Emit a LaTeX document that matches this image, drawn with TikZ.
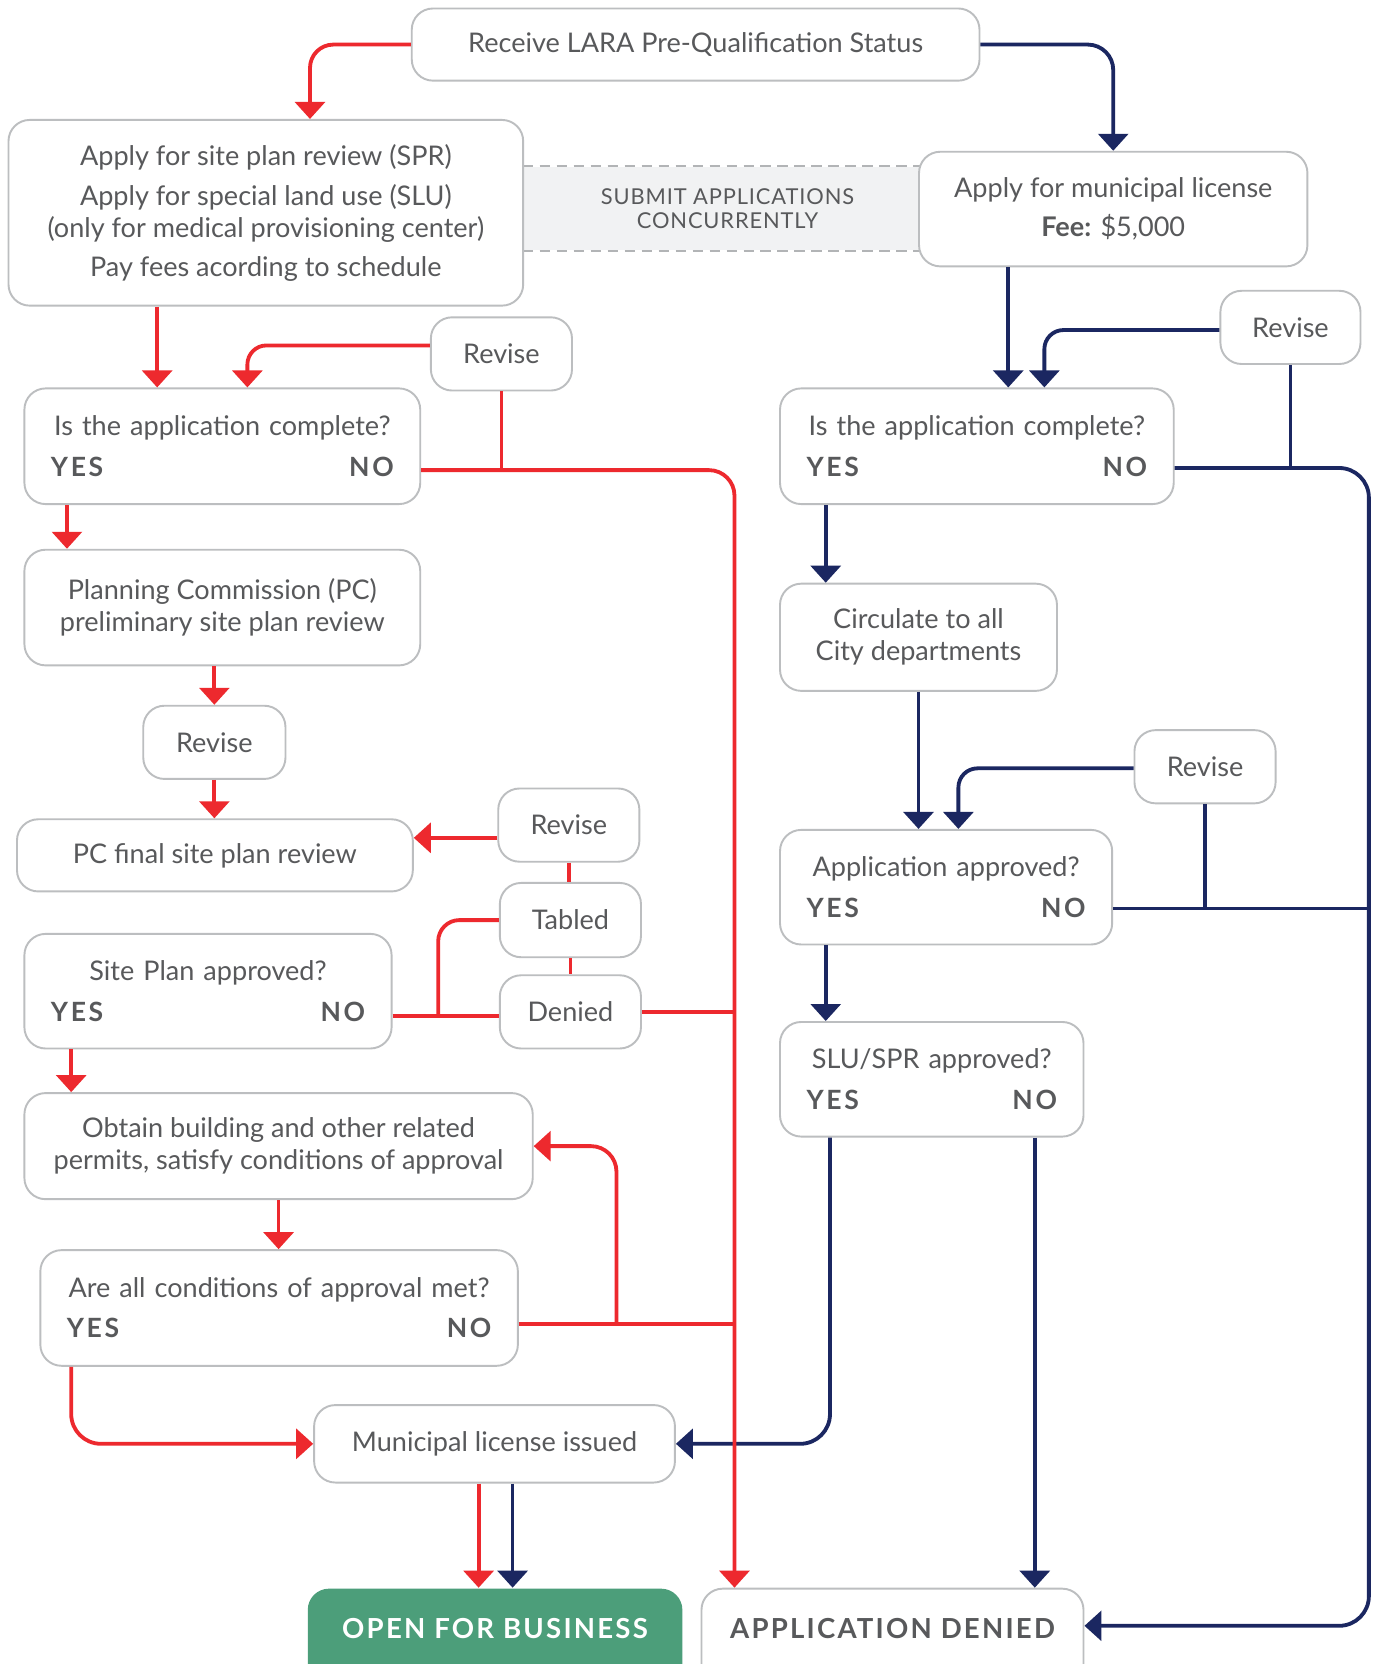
\documentclass[tikz,border=0pt]{standalone}
\usepackage{fontspec}
\setmainfont{Lato}
\newfontfamily\ynfont[LetterSpace=10]{Lato}
\newfontfamily\capsfont[LetterSpace=4]{Lato}
\newfontfamily\endfont[LetterSpace=8]{Lato}
\usetikzlibrary{calc,arrows.meta}
\definecolor{myred}{RGB}{237,41,46}
\definecolor{navy}{RGB}{27,39,97}
\definecolor{bordergray}{RGB}{188,190,192}
\definecolor{txtgray}{RGB}{88,89,91}
\definecolor{okgreen}{RGB}{76,158,122}
\definecolor{bandfill}{RGB}{241,242,243}
\definecolor{bandline}{RGB}{178,180,182}
\newcommand\yesno{{\ynfont\bfseries\fontsize{12.5}{19}\selectfont YES\hfill NO}}
\newcommand\qline[1]{\makebox[0pt][c]{#1}}
\begin{document}
\begin{tikzpicture}[x=0.5pt,y=-0.5pt,
  box/.style={draw=bordergray, line width=0.9pt, rounded corners=10pt, fill=white, inner sep=0pt,
    align=center, text=txtgray, font=\fontsize{12.75}{15}\selectfont},
  qbox/.style={box, font=\fontsize{12.75}{19}\selectfont},
  rl/.style={draw=myred, line width=1.8pt},
  bl/.style={draw=navy, line width=1.8pt},
  arr/.style={-{Triangle[width=14pt,length=8pt]}},
  endlbl/.style={inner sep=0pt, font=\endfont\bfseries\fontsize{13}{15}\selectfont}
]
\useasboundingbox (0,0) rectangle (1294,1568);
\fill[white] (0,0) rectangle (1294,1568);
\clip (0,0) rectangle (1294,1568);

% concurrent band
\node[fill=bandfill, minimum width=192.5pt, minimum height=39.5pt, inner sep=0pt, align=center,
  text=txtgray, font=\capsfont\fontsize{10.3}{11.5}\selectfont] (band) at (685.5,196.5)
  {SUBMIT APPLICATIONS\\CONCURRENTLY};
\draw[bandline, line width=0.9pt, dash pattern=on 5pt off 3pt] (band.north west) -- (band.north east);
\draw[bandline, line width=0.9pt, dash pattern=on 5pt off 3pt] (band.south west) -- (band.south east);

% boxes
\node[box, minimum width=267.5pt, minimum height=34pt] (recv) at (655.5,42) {Receive LARA Pre-Qualification Status};
\node[box, minimum width=242.5pt, minimum height=87.5pt] (spr) at (250.5,200.5)
  {Apply for site plan review (SPR)\\[4pt]Apply for special land use (SLU)\\(only for medical provisioning center)\\[3.5pt]Pay fees acording to schedule};
\node[box, minimum width=183pt, minimum height=54pt] (lic) at (1049,197)
  {Apply for municipal license\\[3.5pt]{\bfseries Fee:} \$5,000};
\node[box, minimum width=66.5pt, minimum height=34.5pt] (rev1) at (472.5,333.5) {Revise};
\node[qbox, minimum width=186.5pt, minimum height=54.5pt, text width=161.5pt] (compL) at (209.5,420.5)
  {\qline{Is the application complete?}\\\yesno};
\node[box, minimum width=186.5pt, minimum height=54.5pt] (plan) at (209.5,572.5)
  {Planning Commission (PC)\\preliminary site plan review};
\node[box, minimum width=67pt, minimum height=34.5pt] (rev2) at (202,699.5) {Revise};
\node[box, minimum width=186.5pt, minimum height=34pt] (pcf) at (202.5,806) {PC final site plan review};
\node[box, minimum width=66.5pt, minimum height=34.5pt] (rev3) at (536,777.5) {Revise};
\node[box, minimum width=66.5pt, minimum height=35pt] (tabled) at (537.5,867) {Tabled};
\node[box, minimum width=66.5pt, minimum height=34.5pt] (denied) at (537.5,953.5) {Denied};
\node[qbox, minimum width=173pt, minimum height=54pt, text width=148pt] (site) at (196,934)
  {\qline{Site Plan approved?}\\\yesno};
\node[box, minimum width=239.5pt, minimum height=50pt] (obtain) at (262.5,1080)
  {Obtain building and other related\\permits, satisfy conditions of approval};
\node[qbox, minimum width=225pt, minimum height=54.5pt, text width=200pt] (cond) at (263,1232.5)
  {\qline{Are all conditions of approval met?}\\\yesno};
\node[box, minimum width=170pt, minimum height=36.5pt] (muni) at (466,1360.5) {Municipal license issued};
\node[box, draw=none, fill=okgreen, minimum width=176.5pt, minimum height=51.5pt] (open) at (466.5,1548.5) {};
\node[box, minimum width=180pt, minimum height=51.5pt] (deny) at (841,1548.5) {};
\node[endlbl, text=white] (openlbl) at (466.5,1535) {OPEN FOR BUSINESS};
\node[endlbl, text=txtgray] (denylbl) at (841,1535) {APPLICATION DENIED};

\node[box, minimum width=66pt, minimum height=34.5pt] (rev4) at (1216,308.5) {Revise};
\node[qbox, minimum width=185.5pt, minimum height=54.5pt, text width=160.5pt] (compR) at (920.5,420.5)
  {\qline{Is the application complete?}\\\yesno};
\node[box, minimum width=130.5pt, minimum height=50.5pt] (circ) at (865.5,600.5)
  {Circulate to all\\City departments};
\node[box, minimum width=66.5pt, minimum height=34.5pt] (rev5) at (1135.5,722.5) {Revise};
\node[qbox, minimum width=156.5pt, minimum height=54pt, text width=131.5pt] (appr) at (891.5,836)
  {\qline{Application approved?}\\\yesno};
\node[qbox, minimum width=143pt, minimum height=54pt, text width=118pt] (slu) at (878,1017)
  {\qline{SLU/SPR approved?}\\\yesno};

% helper coordinates
\coordinate (cLno) at ($(compL.east)+(0,22.5)$);
\coordinate (redx) at ($(deny.north west)+(32,0)$);
\coordinate (sNo) at ($(site.east)+(0,23)$);
\coordinate (cNo) at ($(cond.east)+(0,15)$);
\coordinate (cRno) at ($(compR.east)+(0,20.5)$);
\coordinate (bluex) at ($(rev4.east)+(7,0)$);
\coordinate (aNo) at ($(appr.east)+(0,20)$);

% blue connectors
\draw[bl, arr, rounded corners=12pt] (recv.east) -| (lic.north);
\draw[bl, arr] ($(lic.south west)+(85,0)$) coordinate (b2) -- (b2 |- compR.north);
\draw[bl, arr, rounded corners=9pt] ($(rev4.west)+(0,2.5)$) -| ($(compR.north west)+(250,0)$);
\draw[bl, arr, rounded corners=14pt] (cRno) -| ($(deny.east)+(268,-16.5)$) -- ($(deny.east)+(0,-16.5)$);
\draw[bl] (rev4.south) -- (rev4.south |- cRno);
\draw[bl, arr] ($(compR.south west)+(44,0)$) coordinate (b6) -- (b6 |- circ.north);
\draw[bl, arr] (circ.south) -- (circ.south |- appr.north);
\draw[bl, arr, rounded corners=9pt] ($(rev5.west)+(0,1.5)$) -| ($(appr.north west)+(169,0)$);
\draw[bl] (aNo) -- (aNo -| bluex);
\draw[bl] (rev5.south) -- (rev5.south |- aNo);
\draw[bl, arr] ($(appr.south west)+(44,0)$) coordinate (b11) -- (b11 |- slu.north);
\draw[bl, arr, rounded corners=14pt] ($(slu.south west)+(48,0)$) |- (muni.east);
\draw[bl, arr] ($(slu.south west)+(241,0)$) coordinate (b13) -- (b13 |- deny.north);
\draw[bl, arr] ($(muni.south)+(17,0)$) coordinate (b20) -- (b20 |- open.north);

% red connectors
\draw[rl, arr, rounded corners=11pt] (recv.west) -| ($(spr.north west)+(285,0)$);
\draw[rl, arr] ($(spr.south west)+(141,0)$) coordinate (r2) -- (r2 |- compL.north);
\draw[rl, arr, rounded corners=9pt] ($(rev1.west)+(0,-8)$) -| ($(compL.north west)+(211,0)$);
\draw[rl, arr, rounded corners=12pt] (cLno) -| (redx);
\draw[rl] (rev1.south) -- (rev1.south |- cLno);
\draw[rl, arr] ($(compL.south west)+(41,0)$) coordinate (r6) -- (r6 |- plan.north);
\draw[rl, arr] (plan.south -| rev2.north) -- (rev2.north);
\draw[rl, arr] (rev2.south) -- (rev2.south |- pcf.north);
\draw[rl, arr] ($(rev3.west)+(0,12)$) coordinate (r9) -- (r9 -| pcf.east);
\draw[rl] (rev3.south) -- (rev3.south |- tabled.north);
\draw[rl] (tabled.south) -- (tabled.south |- denied.north);
\draw[rl] (sNo) -- (sNo -| denied.west);
\draw[rl, rounded corners=10pt] ($(sNo)+(43,0)$) |- (tabled.west);
\draw[rl] (denied.east) -- (denied.east -| redx);
\draw[rl, arr] ($(site.south west)+(45,0)$) coordinate (r15) -- (r15 |- obtain.north);
\draw[rl, arr] (obtain.south) -- (obtain.south |- cond.north);
\draw[rl] (cNo) -- (cNo -| redx);
\draw[rl, arr, rounded corners=12pt] ($(cNo)+(92,0)$) |- (obtain.east);
\draw[rl, arr, rounded corners=14pt] ($(cond.south west)+(30,0)$) |- (muni.west);
\draw[rl, arr] ($(muni.south)+(-15,0)$) coordinate (r20) -- (r20 |- open.north);
\end{tikzpicture}
\end{document}
